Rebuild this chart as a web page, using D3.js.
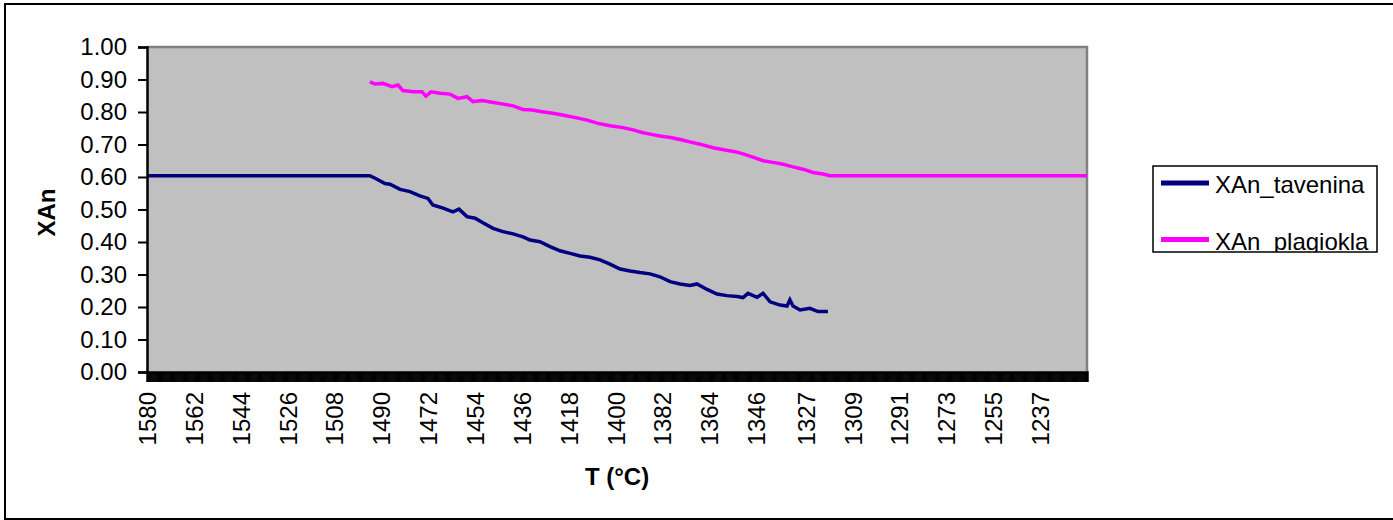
<!DOCTYPE html>
<html>
<head>
<meta charset="utf-8">
<script src="https://cdn.jsdelivr.net/npm/d3@7/dist/d3.min.js"></script>
<style>
  html, body { margin: 0; padding: 0; background: #fff; }
  svg { display: block; font-family: "Liberation Sans", Arial, sans-serif; }
</style>
</head>
<body>
<div id="chart"></div>
<script>
// ── data ─────────────────────────────────────────────────────────
const T_LABELS = [1580, 1562, 1544, 1526, 1508, 1490, 1472, 1454, 1436, 1418,
                  1400, 1382, 1364, 1346, 1327, 1309, 1291, 1273, 1255, 1237]
const T_MIN = 1219
const Y_TICKS = [0, 0.1, 0.2, 0.3, 0.4, 0.5, 0.6, 0.7, 0.8, 0.9, 1.0]

const tavT = [1580, 1494.4, 1492.4, 1488.6, 1486.7, 1482.8, 1479.0, 1475.2, 1472.1, 1470.2,
              1466.3, 1462.5, 1460.2, 1457.1, 1454.0, 1451.0, 1447.1, 1443.3, 1439.4, 1435.6,
              1432.9, 1429.1, 1425.2, 1421.4, 1417.5, 1413.7, 1409.9, 1406.0, 1402.2, 1398.3,
              1394.5, 1390.7, 1386.8, 1383.0, 1379.1, 1375.3, 1371.5, 1368.8, 1364.9, 1361.1,
              1357.3, 1353.4, 1351.1, 1349.2, 1345.7, 1343.4, 1340.7, 1336.9, 1334.2, 1333.1,
              1331.9, 1329.2, 1325.4, 1322.3, 1318.5]
const tavX = [0.604, 0.604, 0.596, 0.580, 0.578, 0.562, 0.555, 0.542, 0.534, 0.514,
              0.504, 0.493, 0.501, 0.478, 0.473, 0.459, 0.442, 0.432, 0.425, 0.416,
              0.406, 0.401, 0.386, 0.373, 0.365, 0.357, 0.353, 0.345, 0.332, 0.317,
              0.311, 0.306, 0.302, 0.293, 0.278, 0.271, 0.266, 0.271, 0.254, 0.240,
              0.235, 0.232, 0.229, 0.242, 0.230, 0.242, 0.216, 0.206, 0.203, 0.222,
              0.203, 0.191, 0.196, 0.186, 0.186]

const plagT = [1494.4, 1492.4, 1489.4, 1485.9, 1483.6, 1481.7, 1477.8, 1474.4, 1472.9, 1470.9,
               1467.5, 1463.6, 1460.6, 1457.1, 1454.8, 1451.3, 1447.5, 1443.7, 1439.4, 1435.6,
               1432.1, 1428.3, 1424.1, 1419.5, 1414.9, 1411.0, 1406.8, 1402.2, 1397.2, 1393.4,
               1389.5, 1386.8, 1383.0, 1378.4, 1374.5, 1371.5, 1367.6, 1362.6, 1358.0, 1354.2,
               1351.1, 1347.3, 1343.4, 1339.6, 1336.1, 1332.3, 1328.1, 1324.2, 1320.4, 1317.7,
               1219]
const plagX = [0.893, 0.886, 0.888, 0.878, 0.883, 0.866, 0.862, 0.862, 0.849, 0.862,
               0.858, 0.855, 0.842, 0.847, 0.832, 0.835, 0.830, 0.825, 0.819, 0.808,
               0.806, 0.801, 0.796, 0.789, 0.782, 0.775, 0.765, 0.758, 0.752, 0.745,
               0.736, 0.732, 0.726, 0.721, 0.714, 0.708, 0.701, 0.690, 0.683, 0.678,
               0.671, 0.661, 0.650, 0.645, 0.640, 0.632, 0.624, 0.614, 0.609, 0.604,
               0.604]

const SERIES = [
  { name: 'XAn_tavenina', color: '#000080', t: tavT, v: tavX },
  { name: 'XAn_plagiokla', color: '#FF00FF', t: plagT, v: plagX },
]

// ── layout ───────────────────────────────────────────────────────
const WIDTH = 1393, HEIGHT = 520
const PLOT = { left: 147, right: 1087, top: 47, bottom: 372 }
const FONT = 24

const svg = d3.select('#chart').append('svg').attr('width', WIDTH).attr('height', HEIGHT)

svg.append('rect')
  .attr('x', 5).attr('y', 4).attr('width', WIDTH + 10).attr('height', 515)
  .attr('fill', '#fff').attr('stroke', '#000').attr('stroke-width', 2)

const x = d3.scaleLinear().domain([T_LABELS[0], T_MIN]).range([PLOT.left, PLOT.right])
const y = d3.scaleLinear().domain([0, 1]).range([PLOT.bottom, PLOT.top])

// plot area
svg.append('rect')
  .attr('x', x(T_LABELS[0])).attr('y', y(1))
  .attr('width', x(T_MIN) - x(T_LABELS[0])).attr('height', y(0) - y(1))
  .attr('fill', '#C0C0C0')
svg.append('path')
  .attr('d', `M${x(T_LABELS[0])},${y(1)}H${x(T_MIN)}V${y(0)}`)
  .attr('fill', 'none').attr('stroke', '#808080').attr('stroke-width', 2.5)

// ── series ───────────────────────────────────────────────────────
const line = d3.line().x(d => x(d[0])).y(d => y(d[1]))
SERIES.forEach(s => {
  svg.append('path')
    .datum(s.t.map((t, i) => [t, s.v[i]]))
    .attr('d', line)
    .attr('fill', 'none')
    .attr('stroke', s.color)
    .attr('stroke-width', 3.5)
    .attr('stroke-linejoin', 'miter')
})

// ── axes ─────────────────────────────────────────────────────────
const gY = svg.append('g').attr('transform', `translate(${PLOT.left},0)`)
  .call(d3.axisLeft(y).tickValues(Y_TICKS).tickFormat(d3.format('.2f')).tickSize(9).tickPadding(11))
gY.select('.domain').attr('stroke-width', 2.5)
gY.selectAll('.tick line').attr('stroke-width', 2)
gY.selectAll('text').attr('font-size', FONT).attr('font-family', null).attr('fill', '#000')

// dense category ticks form the black band under the plot
const gXMinor = svg.append('g').attr('transform', `translate(0,${PLOT.bottom})`)
  .call(d3.axisBottom(x).tickValues(d3.range(T_LABELS[0], T_MIN, -0.2)).tickSize(10).tickFormat(''))
gXMinor.selectAll('.tick line').attr('stroke-width', 1)
gXMinor.select('.domain').attr('stroke-width', 2.5)

const gX = svg.append('g').attr('transform', `translate(0,${PLOT.bottom})`)
  .call(d3.axisBottom(x).tickValues(T_LABELS).tickSize(0).tickFormat(d3.format('d')))
gX.select('.domain').remove()
gX.selectAll('text')
  .attr('transform', 'rotate(-90)')
  .attr('x', -20).attr('y', 0).attr('dy', '0.35em')
  .style('text-anchor', 'end')
  .attr('font-size', FONT).attr('font-family', null).attr('fill', '#000')

svg.append('text')
  .attr('transform', `translate(55,${(PLOT.top + PLOT.bottom) / 2 + 3}) rotate(-90)`)
  .attr('text-anchor', 'middle')
  .attr('font-size', FONT).attr('font-weight', 'bold')
  .text('XAn')

svg.append('text')
  .attr('x', (PLOT.left + PLOT.right) / 2).attr('y', 485)
  .attr('text-anchor', 'middle')
  .attr('font-size', FONT).attr('font-weight', 'bold')
  .text('T (°C)')

// ── legend ───────────────────────────────────────────────────────
const LEG = { x: 1153, y: 166, w: 224, h: 86 }
svg.append('clipPath').attr('id', 'legclip')
  .append('rect').attr('x', LEG.x).attr('y', LEG.y).attr('width', LEG.w).attr('height', LEG.h)
const gL = svg.append('g')
gL.append('rect')
  .attr('x', LEG.x).attr('y', LEG.y).attr('width', LEG.w).attr('height', LEG.h)
  .attr('fill', '#fff')
const items = gL.append('g').attr('clip-path', 'url(#legclip)')
  .selectAll('g').data(SERIES).join('g')
  .attr('transform', (d, i) => `translate(${LEG.x},${LEG.y + 17 + i * 56.5})`)
items.append('line')
  .attr('x1', 8).attr('x2', 56).attr('y1', 0).attr('y2', 0)
  .attr('stroke', d => d.color).attr('stroke-width', 5)
items.append('text')
  .attr('x', 62).attr('y', 10)
  .attr('font-size', FONT)
  .text(d => d.name)
gL.append('rect')
  .attr('x', LEG.x).attr('y', LEG.y).attr('width', LEG.w).attr('height', LEG.h)
  .attr('fill', 'none').attr('stroke', '#000').attr('stroke-width', 1.5)
</script>
</body>
</html>
